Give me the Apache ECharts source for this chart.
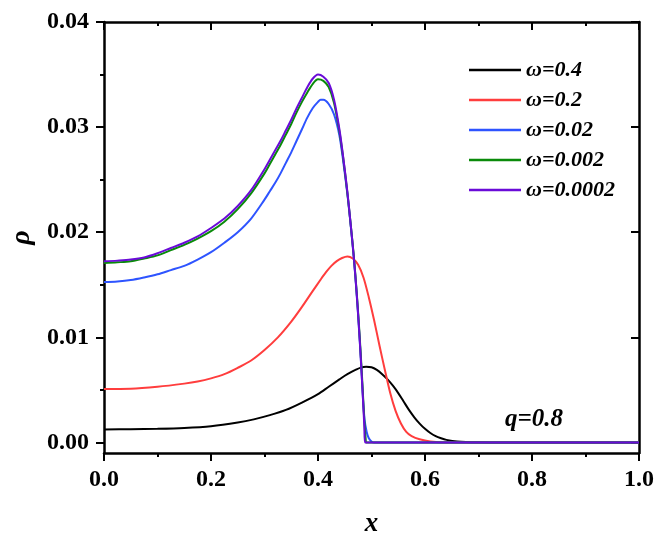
<!DOCTYPE html>
<html>
<head>
<meta charset="utf-8">
<script src="https://cdn.jsdelivr.net/npm/echarts@6/dist/echarts.min.js"></script>
<style>
  html, body { margin: 0; padding: 0; background: #fff; }
  #chart { width: 661px; height: 543px; }
</style>
</head>
<body>
<div id="chart"></div>
<script>
// Values
const yMajor = [0, 0.01, 0.02, 0.03, 0.04];
const yMinor = [0.005, 0.015, 0.025, 0.035];

const names = ["ω=0.4", "ω=0.2", "ω=0.02", "ω=0.002", "ω=0.0002"];
const colors = ["#000000", "#ff3d3d", "#2e54ff", "#0a8a0a", "#6a0bd8"];

const x04 = [0, 0.05, 0.1, 0.15, 0.2, 0.25, 0.28, 0.31, 0.34, 0.37, 0.4, 0.42, 0.44, 0.45, 0.46, 0.47, 0.48, 0.49, 0.5, 0.51, 0.52, 0.53, 0.54, 0.55, 0.56, 0.57, 0.58, 0.59, 0.6, 0.61, 0.62, 0.63, 0.64, 0.66, 0.7, 0.75, 1];
const y04 = [0.00124, 0.00126, 0.0013, 0.00138, 0.00155, 0.0019, 0.0022, 0.0026, 0.0031, 0.0038, 0.0046, 0.0053, 0.0060, 0.00635, 0.00665, 0.0069, 0.00712, 0.0072, 0.00715, 0.0069, 0.0065, 0.0060, 0.0054, 0.0047, 0.0039, 0.0031, 0.0024, 0.0018, 0.0013, 0.0009, 0.0006, 0.0004, 0.00025, 0.0001, 0.00002, 0, 0];

const x02 = [0, 0.05, 0.1, 0.15, 0.175, 0.2, 0.225, 0.25, 0.275, 0.3, 0.325, 0.35, 0.37, 0.39, 0.405, 0.415, 0.425, 0.435, 0.445, 0.455, 0.465, 0.475, 0.485, 0.495, 0.505, 0.515, 0.525, 0.535, 0.545, 0.555, 0.565, 0.575, 0.59, 0.61, 0.64, 0.7, 1];
const y02 = [0.0051, 0.00512, 0.0053, 0.0056, 0.0058, 0.0061, 0.0065, 0.0071, 0.0078, 0.0088, 0.0100, 0.0115, 0.0129, 0.0144, 0.0155, 0.0162, 0.0168, 0.01725, 0.01755, 0.0177, 0.0175, 0.0169, 0.0157, 0.0138, 0.0116, 0.0092, 0.0069, 0.0047, 0.0030, 0.0018, 0.0010, 0.0006, 0.0003, 0.0001, 0, 0, 0];

const x002 = [0, 0.025, 0.05, 0.075, 0.1, 0.125, 0.15, 0.175, 0.2, 0.225, 0.25, 0.275, 0.3, 0.31, 0.32, 0.33, 0.34, 0.35, 0.36, 0.37, 0.38, 0.39, 0.4, 0.405, 0.41, 0.42, 0.43, 0.44, 0.447, 0.455, 0.461, 0.467, 0.472, 0.476, 0.48, 0.4835, 0.487, 0.491, 0.495, 0.5, 0.505, 0.6, 0.8, 1];
const y002 = [0.01527, 0.01532, 0.01545, 0.0157, 0.0160, 0.0164, 0.0168, 0.0174, 0.0181, 0.0190, 0.0200, 0.0213, 0.0231, 0.0239, 0.0247, 0.0256, 0.0266, 0.0276, 0.0287, 0.0298, 0.0309, 0.0318, 0.0324, 0.0326, 0.0326, 0.0322, 0.0312, 0.0292, 0.0268, 0.0236, 0.0207, 0.0175, 0.0143, 0.0113, 0.0080, 0.0047, 0.0022, 0.0010, 0.0004, 0.0001, 0, 0, 0, 0];

const x0002 = [0, 0.025, 0.05, 0.075, 0.1, 0.125, 0.15, 0.175, 0.2, 0.225, 0.25, 0.275, 0.3, 0.31, 0.32, 0.33, 0.34, 0.35, 0.36, 0.37, 0.38, 0.39, 0.4, 0.41, 0.42, 0.43, 0.44, 0.447, 0.455, 0.461, 0.467, 0.472, 0.476, 0.48, 0.4835, 0.4866, 0.489, 0.4905, 0.6, 0.8, 1];
const y0002 = [0.01707, 0.01714, 0.01724, 0.0175, 0.0178, 0.0183, 0.0188, 0.0194, 0.0201, 0.0210, 0.0222, 0.0237, 0.0256, 0.0265, 0.0274, 0.0283, 0.0293, 0.0303, 0.0314, 0.0324, 0.0333, 0.0341, 0.03455, 0.0344, 0.0338, 0.0323, 0.0296, 0.0271, 0.0237, 0.0208, 0.0177, 0.0145, 0.0116, 0.0083, 0.0051, 0.0020, 0.0004, 0, 0, 0, 0];

const x00002 = [0, 0.025, 0.05, 0.075, 0.1, 0.125, 0.15, 0.175, 0.2, 0.225, 0.25, 0.275, 0.3, 0.31, 0.32, 0.33, 0.34, 0.35, 0.36, 0.37, 0.38, 0.39, 0.4, 0.41, 0.42, 0.43, 0.44, 0.447, 0.455, 0.461, 0.467, 0.472, 0.476, 0.48, 0.4835, 0.4866, 0.488, 0.6, 0.8, 1];
const y00002 = [0.01723, 0.0173, 0.0174, 0.0176, 0.0180, 0.0185, 0.0190, 0.0196, 0.0204, 0.0213, 0.0225, 0.0240, 0.0260, 0.0269, 0.0278, 0.0287, 0.0297, 0.0307, 0.0318, 0.0328, 0.0338, 0.0346, 0.0350, 0.0348, 0.0342, 0.0326, 0.0298, 0.0272, 0.0238, 0.0208, 0.0176, 0.0144, 0.0114, 0.0080, 0.0047, 0.0015, 0, 0, 0, 0];

const xsList = [x04, x02, x002, x0002, x00002];
const ysList = [y04, y02, y002, y0002, y00002];

const FONT = "Liberation Serif";

function zip(xs, ys) {
  return xs.map((x, i) => [x, ys[i]]);
}

const chart = echarts.init(document.getElementById("chart"));

const frameLine = { show: true, onZero: false, lineStyle: { color: "#000", width: 2.5 } };
const tickStyle = { color: "#000", width: 2 };
const labelStyle = { color: "#000", fontFamily: FONT, fontWeight: "bold", fontSize: 24 };

chart.setOption({
  animation: false,
  backgroundColor: "#fff",
  grid: { left: 104, right: 22, top: 22, bottom: 90, containLabel: false, outerBoundsMode: "none" },
  legend: {
    orient: "vertical",
    left: 464,
    top: 54,
    itemGap: 8,
    itemWidth: 52,
    itemHeight: 2.5,
    icon: "rect",
    data: names,
    textStyle: { color: "#000", fontFamily: FONT, fontStyle: "italic", fontWeight: "bold", fontSize: 22 }
  },
  xAxis: [
    {
      type: "value", position: "bottom", min: 0, max: 1, interval: 0.2,
      axisLine: frameLine,
      axisTick: { show: true, inside: false, length: 8, lineStyle: tickStyle },
      minorTick: { show: true, splitNumber: 2, length: 4, lineStyle: tickStyle },
      splitLine: { show: false },
      axisLabel: Object.assign({ margin: 15, formatter: v => v.toFixed(1) }, labelStyle),
      name: "x", nameLocation: "middle", nameGap: 58,
      nameTextStyle: { color: "#000", fontFamily: FONT, fontStyle: "italic", fontWeight: "bold", fontSize: 27 }
    },
    {
      type: "value", position: "top", min: 0, max: 1, interval: 0.2,
      axisLine: frameLine,
      axisTick: { show: true, inside: true, length: 8, lineStyle: tickStyle },
      minorTick: { show: true, splitNumber: 2, length: 4, lineStyle: tickStyle },
      splitLine: { show: false },
      axisLabel: { show: false }
    }
  ],
  yAxis: [
    {
      type: "value", position: "left", min: -0.001, max: 0.04,
      axisLine: frameLine,
      axisTick: { show: true, inside: false, length: 8, lineStyle: tickStyle, customValues: yMajor },
      splitLine: { show: false },
      axisLabel: Object.assign({ margin: 15, customValues: yMajor, formatter: v => v.toFixed(2) }, labelStyle),
      name: "ρ", nameLocation: "middle", nameGap: 56,
      nameTextStyle: { color: "#000", fontFamily: FONT, fontStyle: "italic", fontWeight: "bold", fontSize: 28 }
    },
    {
      type: "value", position: "right", min: -0.001, max: 0.04,
      axisLine: frameLine,
      axisTick: { show: true, inside: true, length: 8, lineStyle: tickStyle, customValues: yMajor },
      splitLine: { show: false },
      axisLabel: { show: false }
    },
    {
      type: "value", position: "left", offset: 0, min: -0.001, max: 0.04,
      axisLine: { show: false },
      axisTick: { show: true, inside: false, length: 4, lineStyle: tickStyle, customValues: yMinor },
      splitLine: { show: false },
      axisLabel: { show: false }
    },
    {
      type: "value", position: "right", offset: 0, min: -0.001, max: 0.04,
      axisLine: { show: false },
      axisTick: { show: true, inside: true, length: 4, lineStyle: tickStyle, customValues: yMinor },
      splitLine: { show: false },
      axisLabel: { show: false }
    }
  ],
  graphic: [
    {
      type: "text", left: 505, top: 407,
      style: { text: "q=0.8", fill: "#000", font: "italic bold 25px 'Liberation Serif'" }
    }
  ],
  series: names.map((n, i) => ({
    name: n,
    type: "line",
    xAxisIndex: 0,
    yAxisIndex: 0,
    data: zip(xsList[i], ysList[i]),
    showSymbol: false,
    smooth: 0.3,
    lineStyle: { color: colors[i], width: 2 },
    itemStyle: { color: colors[i] },
    z: 2 + i
  }))
});
</script>
</body>
</html>
